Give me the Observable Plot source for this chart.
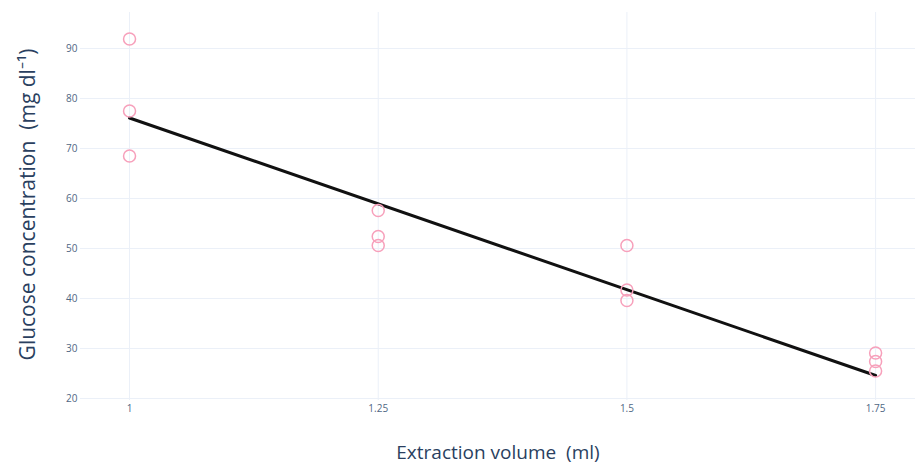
<!DOCTYPE html>
<html>
<head>
<meta charset="utf-8">
<script src="https://cdn.jsdelivr.net/npm/d3@7"></script>
<script src="https://cdn.jsdelivr.net/npm/@observablehq/plot@0.6"></script>
<style>
  html, body { margin: 0; padding: 0; background: #fff; }
</style>
</head>
<body>
<div id="chart"></div>
<script>
// Data
const volume = [1, 1, 1, 1.25, 1.25, 1.25, 1.5, 1.5, 1.5, 1.75, 1.75, 1.75];
const glucose = [91.9, 77.5, 68.5, 57.6, 52.4, 50.6, 50.6, 41.7, 39.6, 29.1, 27.4, 25.5];
const fitVolume = [1, 1.75];
const fitGlucose = [76.1, 24.6];
const xTicks = [1, 1.25, 1.5, 1.75];
const xTickLabels = ["1", "1.25", "1.5", "1.75"];
const yTicks = [20, 30, 40, 50, 60, 70, 80, 90];
const xTitle = "Extraction volume  (ml)";
const yTitle = "Glucose concentration  (mg dl\u207B\u00B9)";

const points = volume.map((v, i) => ({x: v, y: glucose[i]}));
const fit = fitVolume.map((v, i) => ({x: v, y: fitGlucose[i]}));

const chart = Plot.plot({
  width: 918,
  height: 467,
  marginLeft: 80,
  marginRight: 3,
  marginTop: 12,
  marginBottom: 67,
  style: {fontFamily: "'Open Sans', sans-serif", fontSize: "10px", background: "#fff"},
  x: {domain: [0.9507, 1.7901]},
  y: {domain: [19.6, 97.2]},
  marks: [
    Plot.gridX(xTicks, {stroke: "#ebf0f8", strokeOpacity: 1, strokeWidth: 1}),
    Plot.gridY(yTicks, {stroke: "#ebf0f8", strokeOpacity: 1, strokeWidth: 1}),
    Plot.axisX(xTicks, {tickSize: 0, tickPadding: 4, label: null, fill: "#506784",
      tickFormat: (d) => xTickLabels[xTicks.indexOf(d)]}),
    Plot.axisY(yTicks, {tickSize: 0, tickPadding: 3, label: null, fill: "#506784"}),
    Plot.line(fit, {x: "x", y: "y", stroke: "#111", strokeWidth: 3}),
    Plot.dot(points, {x: "x", y: "y", r: 6, stroke: "#f7a0bb", strokeWidth: 1.5, fill: "none"}),
    Plot.text([xTitle], {text: (d) => d, frameAnchor: "bottom", textAnchor: "middle", dy: 58, fontSize: 19, fill: "#2a3f5f"}),
    Plot.text([yTitle], {text: (d) => d, frameAnchor: "left", textAnchor: "middle", dx: -52, dy: -2, rotate: -90, fontSize: 21, fill: "#2a3f5f"})
  ]
});
document.getElementById("chart").appendChild(chart);
</script>
</body>
</html>
